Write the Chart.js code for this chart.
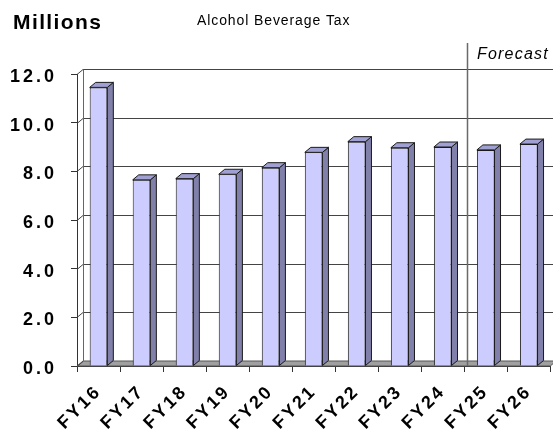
<!DOCTYPE html>
<html>
<head>
<meta charset="utf-8">
<title>Alcohol Beverage Tax</title>
<script src="https://cdn.jsdelivr.net/npm/chart.js@4.4.1/dist/chart.umd.min.js"></script>
<style>
  html, body { margin: 0; padding: 0; background: #fff; }
  #wrap { width: 553px; height: 434px; }
</style>
</head>
<body>
<div id="wrap"><canvas id="chart" width="553" height="434"></canvas></div>
<script>
// Fiscal years and collections (millions of dollars)
const fiscalYears = ['FY16', 'FY17', 'FY18', 'FY19', 'FY20', 'FY21', 'FY22', 'FY23', 'FY24', 'FY25', 'FY26'];
const collections = [11.45, 7.65, 7.7, 7.88, 8.15, 8.78, 9.22, 8.97, 9.0, 8.88, 9.12];
const yTicks = [0, 2, 4, 6, 8, 10, 12];
const forecastStart = 'FY25';

const unitLabel = 'Millions';
const chartTitle = 'Alcohol Beverage Tax';
const forecastLabel = 'Forecast';

// depth of the pseudo-3D extrusion
const DX = 6, DY = 5;

// give an axis its own letter tracking while its labels are painted
function trackLabels(spacing) {
  return function (scale) {
    if (scale.$tracked) return;
    scale.$tracked = true;
    const draw = scale.drawLabels.bind(scale);
    scale.drawLabels = function (area) {
      scale.ctx.letterSpacing = spacing;
      draw(area);
      scale.ctx.letterSpacing = '0px';
    };
  };
}

const threeD = {
  id: 'threeD',
  beforeDraw(chart) {
    const ctx = chart.ctx;
    ctx.save();
    ctx.fillStyle = '#fff';
    ctx.fillRect(0, 0, chart.width, chart.height);
    ctx.restore();
  },
  beforeDatasetsDraw(chart) {
    const ctx = chart.ctx;
    const {left, right, bottom} = chart.chartArea;
    const y = chart.scales.y, x = chart.scales.x;
    ctx.save();
    // floor
    ctx.beginPath();
    ctx.moveTo(left, bottom);
    ctx.lineTo(left + DX, bottom - DY);
    ctx.lineTo(right + DX, bottom - DY);
    ctx.lineTo(right, bottom);
    ctx.closePath();
    ctx.fillStyle = '#a0a0a0';
    ctx.fill();
    ctx.strokeStyle = '#555';
    ctx.lineWidth = 1;
    ctx.stroke();
    // back wall grid
    ctx.strokeStyle = '#444';
    ctx.lineWidth = 1;
    yTicks.forEach(v => {
      const py = Math.round(y.getPixelForValue(v)) + 0.5;
      ctx.beginPath();
      if (v > 0) {
        ctx.moveTo(left + DX, py - DY);
        ctx.lineTo(right + DX, py - DY);
      }
      ctx.moveTo(left, py);
      ctx.lineTo(left + DX, py - DY);
      ctx.stroke();
    });
    // left wall edge
    const ty = Math.round(y.getPixelForValue(yTicks[yTicks.length - 1])) + 0.5;
    ctx.beginPath();
    ctx.moveTo(left + DX + 0.5, ty - DY);
    ctx.lineTo(left + DX + 0.5, bottom - DY);
    ctx.strokeStyle = '#666';
    ctx.stroke();
    // forecast divider
    const i = fiscalYears.indexOf(forecastStart);
    const fx = Math.round((x.getPixelForValue(i - 1) + x.getPixelForValue(i)) / 2 + DX / 2) + 0.5;
    ctx.beginPath();
    ctx.moveTo(fx, 43);
    ctx.lineTo(fx, bottom);
    ctx.strokeStyle = '#6a6a6a';
    ctx.lineWidth = 1.5;
    ctx.stroke();
    ctx.restore();
  },
  afterDatasetsDraw(chart) {
    const ctx = chart.ctx;
    const meta = chart.getDatasetMeta(0);
    ctx.save();
    ctx.lineWidth = 1;
    ctx.strokeStyle = '#1a1a1a';
    ctx.lineJoin = 'round';
    meta.data.forEach(bar => {
      const {x, y, base, width} = bar.getProps(['x', 'y', 'base', 'width'], true);
      const l = x - width / 2, r = x + width / 2;
      // side face
      ctx.beginPath();
      ctx.moveTo(r, y);
      ctx.lineTo(r + DX, y - DY);
      ctx.lineTo(r + DX, base - DY);
      ctx.lineTo(r, base);
      ctx.closePath();
      ctx.fillStyle = '#8080aa';
      ctx.fill();
      ctx.stroke();
      // top face
      ctx.beginPath();
      ctx.moveTo(l, y);
      ctx.lineTo(l + DX, y - DY);
      ctx.lineTo(r + DX, y - DY);
      ctx.lineTo(r, y);
      ctx.closePath();
      ctx.fillStyle = '#a0a0d2';
      ctx.fill();
      ctx.stroke();
    });
    ctx.restore();
  },
  afterDraw(chart) {
    const ctx = chart.ctx;
    ctx.save();
    ctx.fillStyle = '#000';
    ctx.textBaseline = 'alphabetic';
    ctx.textAlign = 'left';
    ctx.font = 'bold 21px "Liberation Sans", Arial, sans-serif';
    ctx.letterSpacing = '1.4px';
    ctx.fillText(unitLabel, 13, 29);
    ctx.font = '14px "Liberation Sans", Arial, sans-serif';
    ctx.letterSpacing = '0.9px';
    ctx.fillText(chartTitle, 197, 25);
    ctx.font = 'italic 16px "Liberation Sans", Arial, sans-serif';
    ctx.letterSpacing = '1.2px';
    ctx.fillText(forecastLabel, 477, 59);
    ctx.restore();
  }
};

new Chart(document.getElementById('chart'), {
  type: 'bar',
  data: {
    labels: fiscalYears,
    datasets: [{
      data: collections,
      backgroundColor: '#ccccff',
      borderColor: '#1a1a1a',
      borderWidth: 1,
      barPercentage: 0.41,
      categoryPercentage: 1
    }]
  },
  options: {
    responsive: false,
    animation: false,
    layout: { padding: { top: 74, left: 0, right: -1, bottom: 0 } },
    plugins: { legend: { display: false }, tooltip: { enabled: false }, title: { display: false } },
    scales: {
      x: {
        offset: true,
        grid: { offset: true, drawOnChartArea: false, tickLength: 6, color: '#333' },
        border: { color: '#333' },
        ticks: {
          autoSkip: false, minRotation: 45, maxRotation: 45, padding: 9, color: '#000',
          font: { family: '"Liberation Sans", Arial, sans-serif', size: 18, weight: 'bold' }
        },
        afterFit(s) { s.height = 68; },
        afterUpdate: trackLabels('2.5px')
      },
      y: {
        min: 0, max: 12,
        afterBuildTicks(s) { s.ticks = yTicks.map(v => ({ value: v })); },
        grid: { drawOnChartArea: false, tickLength: 6, color: '#333' },
        border: { color: '#333' },
        ticks: {
          padding: 14, color: '#000', labelOffset: 3,
          callback: v => v.toFixed(1),
          font: { family: '"Liberation Sans", Arial, sans-serif', size: 18, weight: 'bold' }
        },
        afterFit(s) { s.width = 77; },
        afterUpdate: trackLabels('3px')
      }
    }
  },
  plugins: [threeD]
});
</script>
</body>
</html>
